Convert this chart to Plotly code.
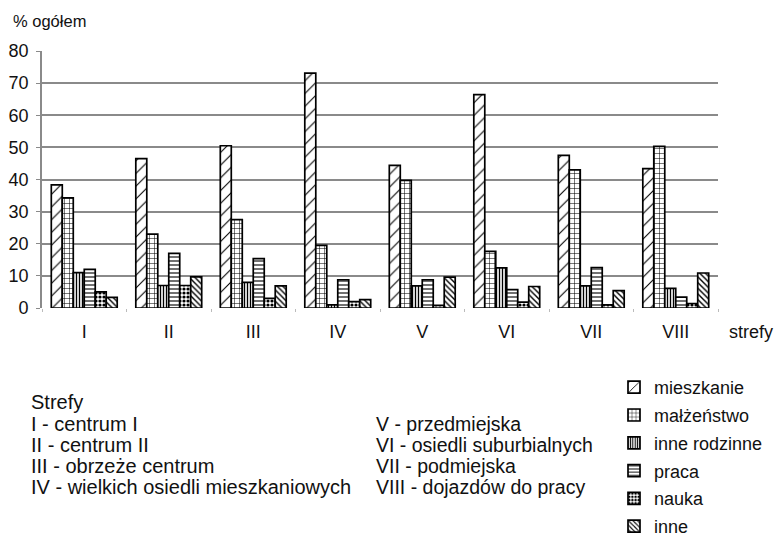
import plotly.graph_objects as go

# ---- data ----
zones = ["I", "II", "III", "IV", "V", "VI", "VII", "VIII"]
mieszkanie = [38.3, 46.5, 50.5, 73.1, 44.4, 66.4, 47.5, 43.4]
malzenstwo = [34.3, 23.0, 27.5, 19.5, 39.7, 17.6, 43.0, 50.3]
inne_rodzinne = [11.0, 7.0, 8.0, 1.0, 6.9, 12.5, 6.9, 6.1]
praca = [12.0, 17.0, 15.4, 8.8, 8.8, 5.7, 12.6, 3.4]
nauka = [5.0, 7.0, 3.0, 2.0, 0.8, 1.8, 1.0, 1.4]
inne = [3.3, 9.7, 6.9, 2.6, 9.6, 6.7, 5.4, 10.9]

series_names = ["mieszkanie", "małżeństwo", "inne rodzinne", "praca", "nauka", "inne"]
series_values = [mieszkanie, malzenstwo, inne_rodzinne, praca, nauka, inne]

y_ticks = [0, 10, 20, 30, 40, 50, 60, 70, 80]

zone_desc_left = ["Strefy", "I - centrum I", "II - centrum II", "III - obrzeże centrum",
                  "IV - wielkich osiedli mieszkaniowych"]
zone_desc_right = ["V - przedmiejska", "VI - osiedli suburbialnych", "VII - podmiejska",
                   "VIII - dojazdów do pracy"]

# ---- styling ----
FONT = "Liberation Sans, Arial, sans-serif"
patterns = [
    dict(shape="/", size=9, solidity=0.12),
    dict(shape="+", size=5, solidity=0.2),
    dict(shape="|", size=3, solidity=0.45),
    dict(shape="-", size=4, solidity=0.28),
    dict(shape=".", size=4, solidity=0.5),
    dict(shape="\\", size=4, solidity=0.35),
]

W, H = 774, 537
L, R, T, B = 42, 56, 51, 229
PW, PH = W - L - R, H - T - B


def px(x):
    return (x - L) / PW


def py(y):
    return (H - B - y) / PH


fig = go.Figure()
for name, vals, pat in zip(series_names, series_values, patterns):
    fig.add_trace(go.Bar(
        x=zones, y=vals, name=name, legendgroup=name,
        marker=dict(color="white", line=dict(color="black", width=1.7),
                    pattern=dict(fgcolor="black", bgcolor="white", fillmode="replace", **pat)),
    ))

fig.update_layout(
    width=W, height=H,
    margin=dict(l=L, r=R, t=T, b=B, autoexpand=False),
    paper_bgcolor="white", plot_bgcolor="white",
    barmode="group", bargap=0.22, bargroupgap=0,
    font=dict(family=FONT, color="#111", size=16),
    showlegend=True,
    legend=dict(x=px(614), y=py(369), xanchor="left", yanchor="top",
                traceorder="grouped", tracegroupgap=1.4,
                font=dict(size=18, family=FONT, color="#111"),
                bgcolor="rgba(0,0,0,0)"),
    xaxis=dict(type="category", showgrid=False, showline=False, zeroline=False,
               ticks="outside", ticklen=3, tickcolor="#bbb", tickson="boundaries",
               tickfont=dict(size=18), ticklabelstandoff=11),
    yaxis=dict(range=[0, 80], tickvals=y_ticks, showgrid=True, gridcolor="#8a8a8a", gridwidth=1.6,
               showline=True, linecolor="#8a8a8a", linewidth=1.6, zeroline=False,
               ticks="outside", ticklen=4, tickcolor="#8a8a8a", tickfont=dict(size=18),
               ticklabelstandoff=4),
)

annotations = [
    dict(text="% ogółem", x=px(11), y=py(21), xanchor="left", yanchor="middle", font=dict(size=16.5)),
    dict(text="strefy", x=px(727), y=py(332), xanchor="left", yanchor="middle", font=dict(size=18)),
]
left_y = [402, 424, 445, 466, 487]
for t, yy in zip(zone_desc_left, left_y):
    annotations.append(dict(text=t, x=px(29), y=py(yy), xanchor="left", yanchor="middle",
                            font=dict(size=20)))
for t, yy in zip(zone_desc_right, left_y[1:]):
    annotations.append(dict(text=t, x=px(374), y=py(yy), xanchor="left", yanchor="middle",
                            font=dict(size=19.5)))
for a in annotations:
    a.update(xref="paper", yref="paper", showarrow=False)
fig.update_layout(annotations=annotations)

fig.write_html(
    "out.html",
    config={"displayModeBar": False},
    post_script="document.body.style.margin='0px';document.body.style.overflow='hidden';",
)
